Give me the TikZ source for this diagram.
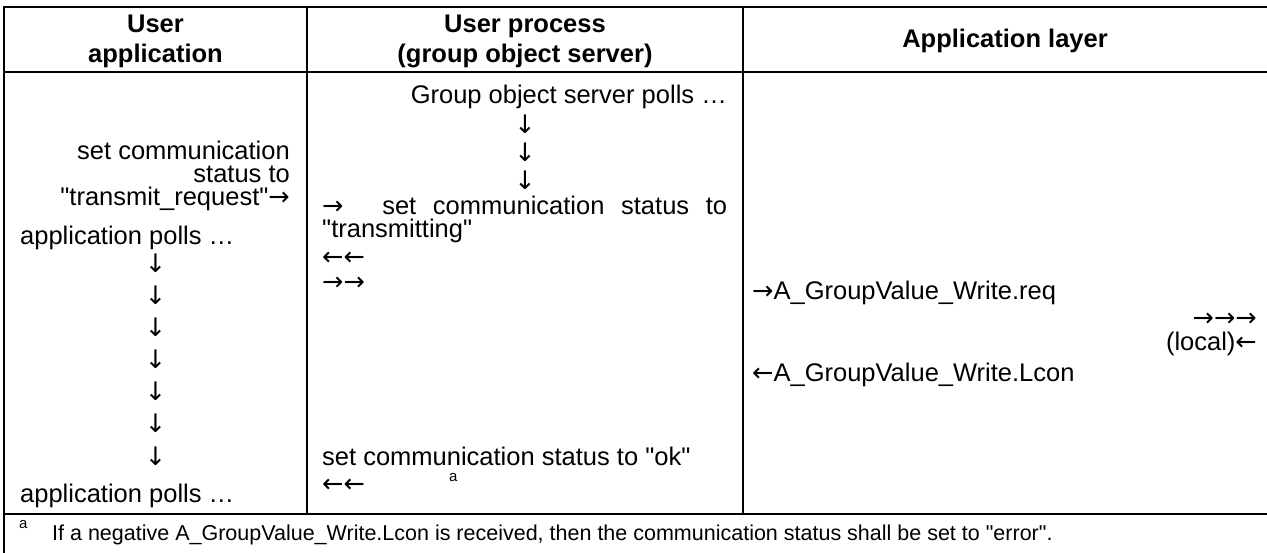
\documentclass[tikz,border=0pt]{standalone}
\usepackage{fontspec}
\newfontfamily\lsans{Liberation Sans}
\newfontfamily\arrf{DejaVu Sans}
\newcommand\myra{{\arrf →}}
\newcommand\myla{{\arrf ←}}
\newcommand\myda{{\arrf ↓}}
\begin{document}
\begin{tikzpicture}[x=1pt,y=-1pt,
  txt/.style={inner sep=0pt, font=\fontsize{25.5}{26}\selectfont\lsans},
  hdr/.style={inner sep=0pt, font=\fontsize{25.5}{30}\selectfont\lsans\bfseries},
  arr/.style={inner sep=0pt, font=\fontsize{25.5}{26}\selectfont\arrf},
  fnote/.style={inner sep=0pt, font=\fontsize{21.5}{26}\selectfont\lsans},
  supa/.style={inner sep=0pt, font=\fontsize{15}{16}\selectfont\lsans},
  rule/.style={line width=1.6pt, line cap=rect}]
\useasboundingbox (0,0) rectangle (1267,552);
% table rules
\draw[rule] (4,7) -- (1268,7);
\draw[rule] (4,72) -- (1268,72);
\draw[rule] (4,514) -- (1268,514);
\draw[rule] (4,7) -- (4,553);
\draw[rule] (307,7) -- (307,514);
\draw[rule] (743,7) -- (743,514);
% header
\node[hdr, anchor=base] (h1a) at (155.5,32) {User};
\node[hdr, anchor=base] (h1b) at (155.5,62) {application};
\node[hdr, anchor=base] (h2a) at (525,32) {User process};
\node[hdr, anchor=base] (h2b) at (525,62) {(group object server)};
\node[hdr, anchor=base] (h3) at (1005,47) {Application layer};
% column 1
\node[txt, anchor=base east] (c1a) at (290,159) {set communication};
\node[txt, anchor=base east] (c1b) at (290,182) {status to};
\node[txt, anchor=base east] (c1c) at (290,205) {"transmit\_request"\myra};
\node[txt, anchor=base west] (c1d) at (20,244) {application polls …};
\foreach \i/\y in {1/263,2/295,3/327,4/359,5/391,6/423,7/456}
  \node[arr] (d\i) at (155.5,\y) {↓};
\node[txt, anchor=base west] (c1e) at (20,502) {application polls …};
% column 2
\node[txt, anchor=base east] (c2a) at (727,103) {Group object server polls …};
\node[arr] (e1) at (525,124) {↓};
\node[arr] (e2) at (525,152) {↓};
\node[arr] (e3) at (525,180) {↓};
\node[txt, anchor=base west] (c2b) at (322,214) {\makebox[405pt][s]{\myra\hspace{22pt}\hfill set\hfill communication\hfill status\hfill to}};
\node[txt, anchor=base west] (c2c) at (322,237) {"transmitting"};
\node[txt, anchor=base west] (c2d) at (322,265) {\myla\myla};
\node[txt, anchor=base west] (c2e) at (322,290) {\myra\myra};
\node[txt, anchor=base west] (c2f) at (322,465) {set communication status to "ok"};
\node[supa, anchor=base west] (c2g) at (449,481) {a};
\node[txt, anchor=base west] (c2h) at (322,492) {\myla\myla};
% column 3
\node[txt, anchor=base west] (c3a) at (752,299) {\myra A\_GroupValue\_Write.req};
\node[txt, anchor=base east] (c3b) at (1257,326) {\myra\myra\myra};
\node[txt, anchor=base east] (c3c) at (1257,350) {(local)\myla};
\node[txt, anchor=base west] (c3d) at (752,381) {\myla A\_GroupValue\_Write.Lcon};
% footnote
\node[supa, anchor=base west] (fa) at (19,528) {a};
\node[fnote, anchor=base west] (fb) at (52,540) {If a negative A\_GroupValue\_Write.Lcon is received, then the communication status shall be set to "error".};
\end{tikzpicture}
\end{document}
